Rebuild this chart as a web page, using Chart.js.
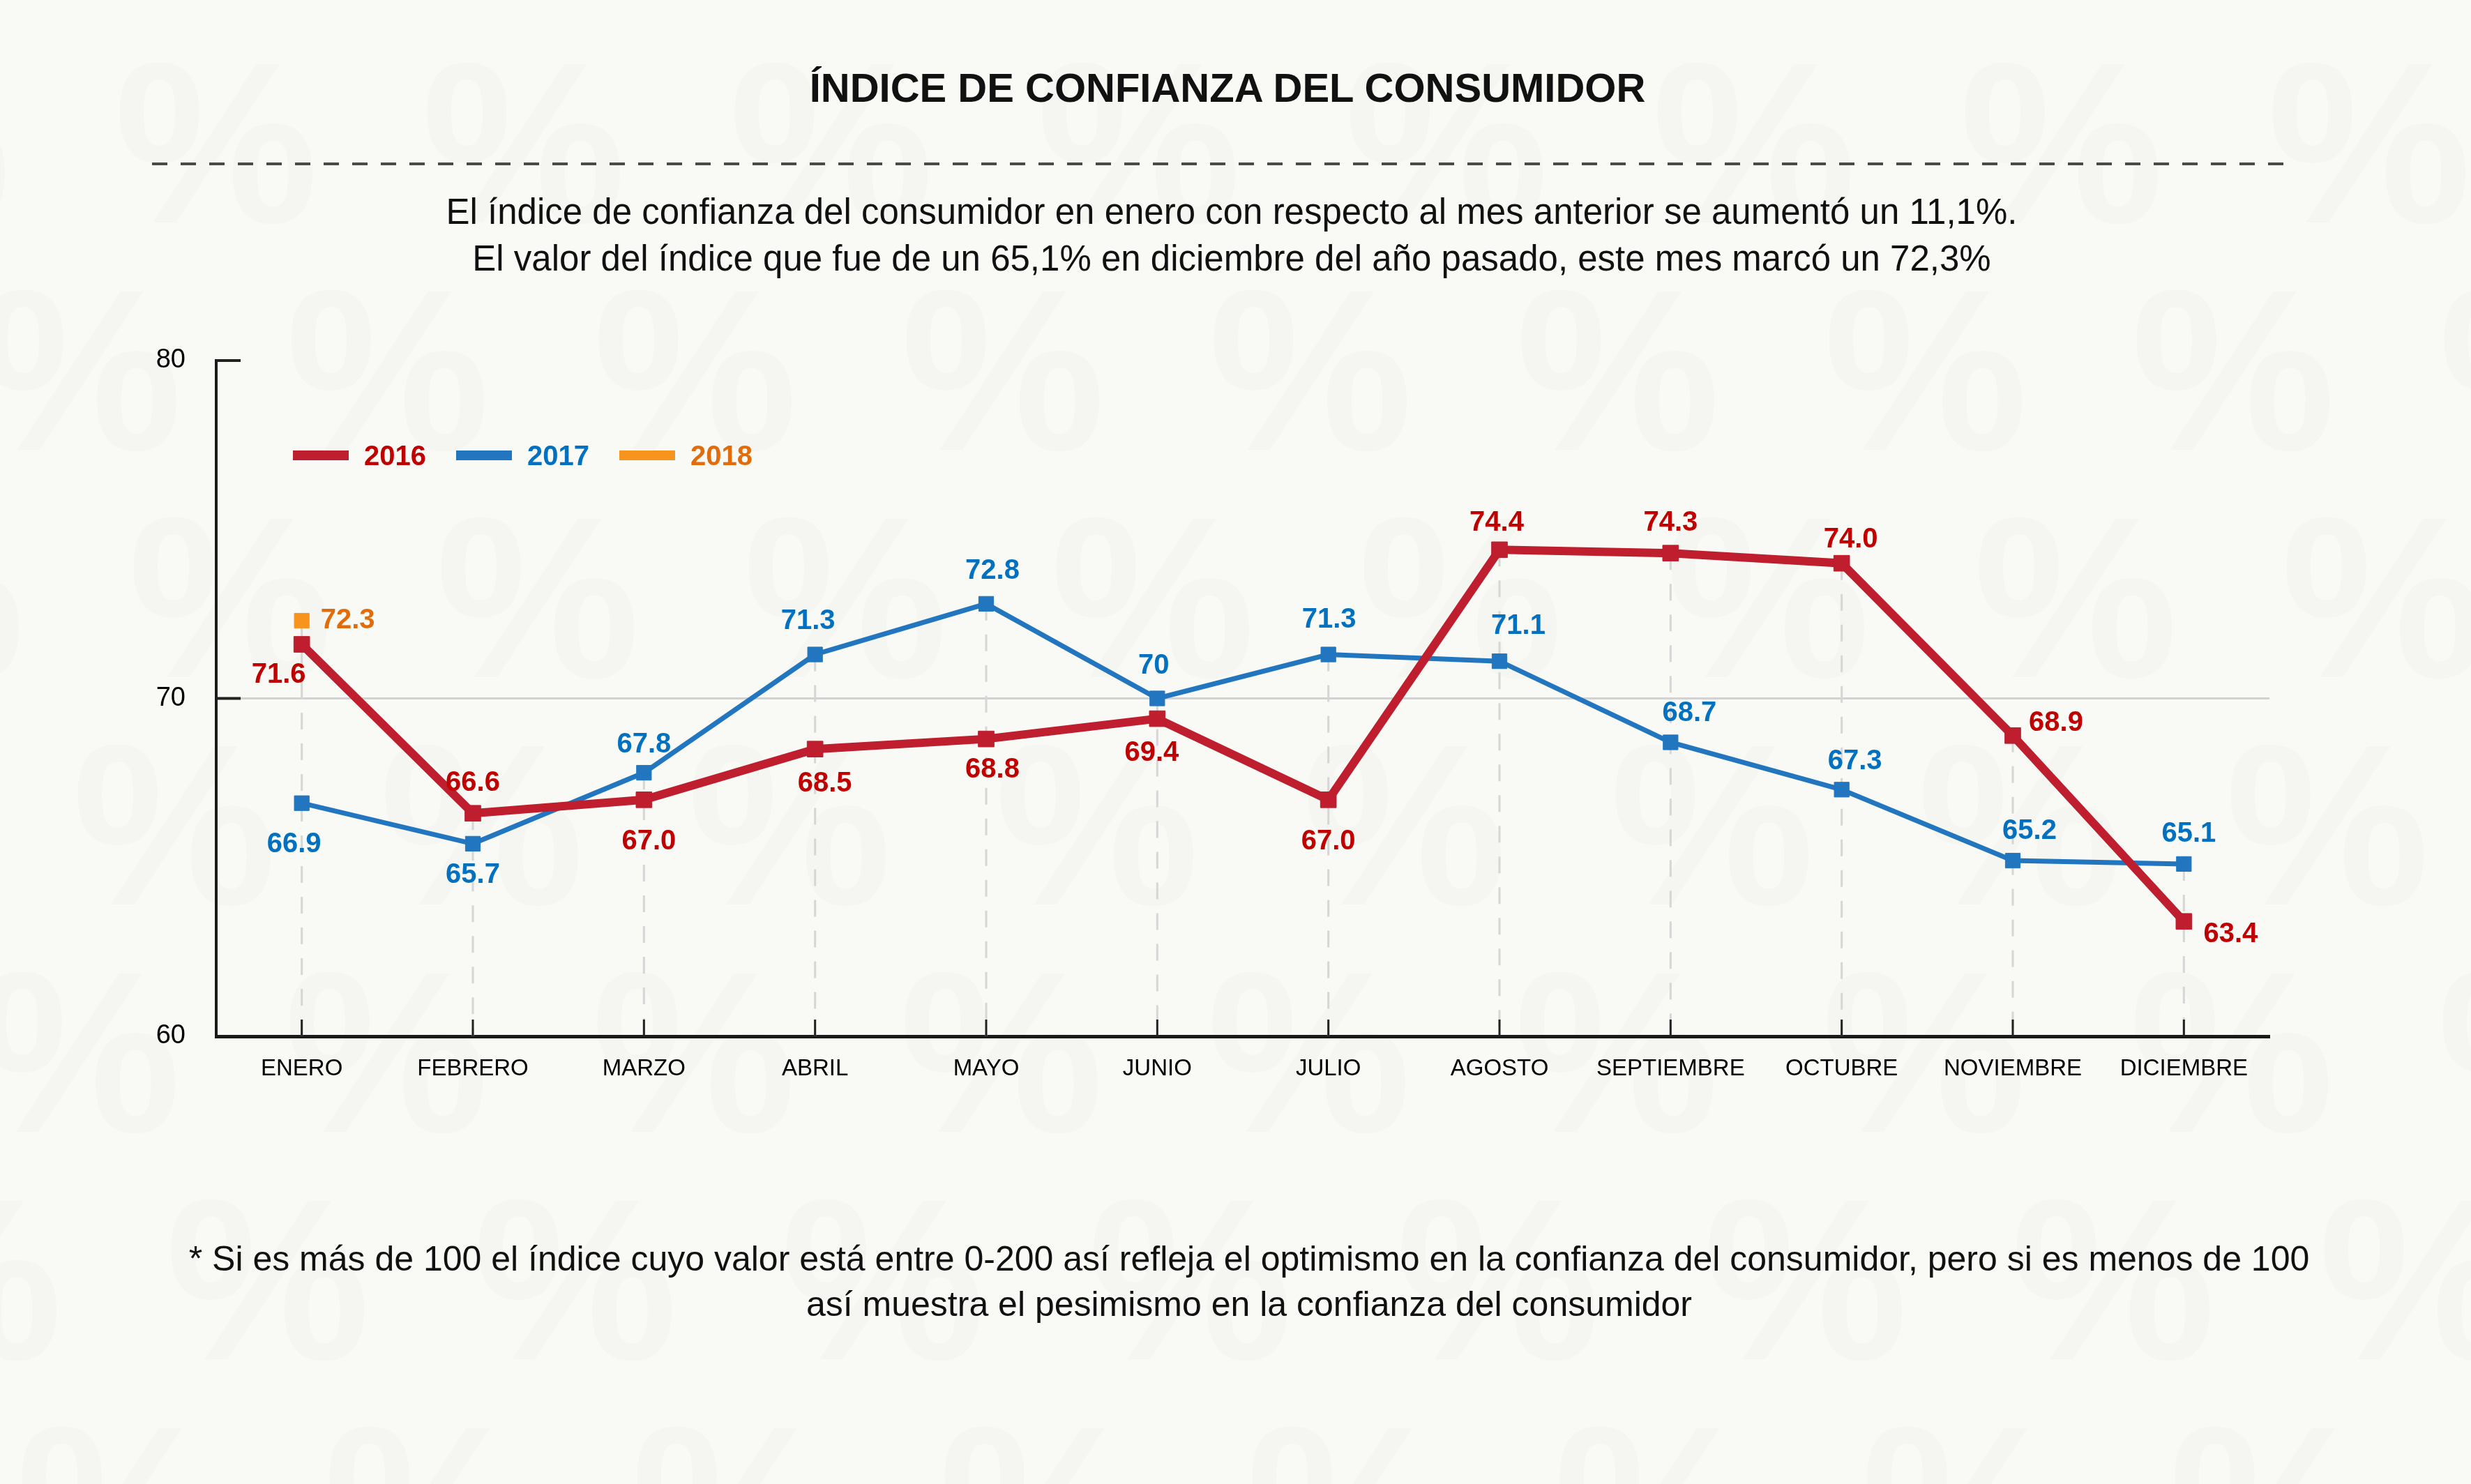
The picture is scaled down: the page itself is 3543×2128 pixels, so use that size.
<!DOCTYPE html>
<html lang="es">
<head>
<meta charset="utf-8">
<script src="https://cdn.jsdelivr.net/npm/chart.js@4.4.1/dist/chart.umd.min.js"></script>
<style>
  html, body { margin: 0; padding: 0; }
  body {
    width: 3543px; height: 2128px; position: relative; overflow: hidden;
    background: #f9f9f5; font-family: "Liberation Sans", Arial, sans-serif; color: #111;
  }
  #marks { position: absolute; left: 0; top: 0; width: 3543px; height: 2128px; }
  #marks span {
    position: absolute; font-size: 330px; font-weight: bold; line-height: 1;
    color: rgba(0, 0, 0, 0.014); transform: translate(-50%, -50%);
  }
  #chart { position: absolute; left: 0; top: 0; }
  .txt { position: absolute; text-align: center; white-space: nowrap; transform: translateX(-50%); }
  #title { left: 1760px; top: 92px; font-size: 58px; font-weight: bold; line-height: 68px; }
  #rule {
    position: absolute; left: 218px; width: 3072px; top: 233px; height: 4px;
    background: repeating-linear-gradient(90deg, #4a4a4a 0 22px, transparent 22px 41px);
  }
  #subtitle { left: 1766px; top: 270px; font-size: 51px; line-height: 67px; }
  #footer { left: 1791px; top: 1773px; font-size: 50px; line-height: 65px; }
  #legend { position: absolute; left: 420px; top: 626px; display: flex; align-items: center; height: 54px; }
  #legend .ln { width: 80px; height: 14px; margin-right: 22px; }
  #legend .lb { font-size: 40px; font-weight: bold; margin-right: 43px; }
</style>
</head>
<body>
<div id="marks"></div>
<canvas id="chart" width="3543" height="2128"></canvas>
<div id="title" class="txt">ÍNDICE DE CONFIANZA DEL CONSUMIDOR</div>
<div id="rule"></div>
<div id="subtitle" class="txt">El índice de confianza del consumidor en enero con respecto al mes anterior se aumentó un 11,1%.<br>El valor del índice que fue de un 65,1% en diciembre del año pasado, este mes marcó un 72,3%</div>
<div id="legend"></div>
<div id="footer" class="txt">* Si es más de 100 el índice cuyo valor está entre 0-200 así refleja el optimismo en la confianza del consumidor, pero si es menos de 100<br>así muestra el pesimismo en la confianza del consumidor</div>
<script>
// data
const months = ['ENERO', 'FEBRERO', 'MARZO', 'ABRIL', 'MAYO', 'JUNIO', 'JULIO',
  'AGOSTO', 'SEPTIEMBRE', 'OCTUBRE', 'NOVIEMBRE', 'DICIEMBRE'];
const seriesNames = ['2016', '2017', '2018'];
const values2016 = [71.6, 66.6, 67.0, 68.5, 68.8, 69.4, 67.0, 74.4, 74.3, 74.0, 68.9, 63.4];
const values2017 = [66.9, 65.7, 67.8, 71.3, 72.8, 70, 71.3, 71.1, 68.7, 67.3, 65.2, 65.1];
const values2018 = [72.3, null, null, null, null, null, null, null, null, null, null, null];
const yTicks = [60, 70, 80];

// styles
const lineColors = ['#be1e2d', '#2176bf', '#f7941d'];
const textColors = ['#c00000', '#0070c0', '#e36c0a'];
// where each value label sits relative to its point (px)
const labelOffsets2016 = [[-33, 44], [0, -43], [7, 60], [14, 50], [9, 44], [-8, 49],
  [0, 60], [-4, -38], [0, -43], [13, -34], [62, -18], [67, 19]];
const labelOffsets2017 = [[-11, 59], [0, 45], [0, -40], [-10, -48], [9, -47], [-5, -47],
  [1, -50], [27, -50], [27, -42], [19, -40], [24, -42], [7, -43]];
const labelOffsets2018 = [[66, 0]];

const FONT = '"Liberation Sans", Arial, sans-serif';

// faint % watermark rows (centre y, first x)
const markRows = [[205, 310], [531, 115], [857, 330], [1183, 250], [1509, 113], [1835, 384], [2161, 170]];
const marks = document.getElementById('marks');
markRows.forEach(([y, x0]) => {
  for (let x = x0 - 441; x < 3543 + 441; x += 441) {
    const s = document.createElement('span');
    s.textContent = '%';
    s.style.left = x + 'px';
    s.style.top = y + 'px';
    marks.appendChild(s);
  }
});

const CHART_LEFT = 310, CHART_RIGHT = 3254, CHART_TOP = 517, CHART_BOTTOM = 1486;
const X_AXIS_H = 100;

// dashed drop lines from the highest point of each month down to the axis
const dropLines = {
  id: 'dropLines',
  beforeDatasetsDraw(chart) {
    const { ctx, chartArea, scales } = chart;
    ctx.save();
    ctx.strokeStyle = '#d6d6d6';
    ctx.lineWidth = 3;
    ctx.setLineDash([24, 20]);
    months.forEach((m, i) => {
      let top = null;
      chart.data.datasets.forEach(ds => {
        const v = ds.data[i];
        if (v == null) return;
        if (top === null || v > top) top = v;
      });
      if (top === null) return;
      const x = scales.x.getPixelForValue(i);
      const y = scales.y.getPixelForValue(top);
      ctx.beginPath();
      ctx.moveTo(x, y);
      ctx.lineTo(x, chartArea.bottom);
      ctx.stroke();
    });
    ctx.restore();
  }
};

// short tick marks drawn inside the plot area
const innerTicks = {
  id: 'innerTicks',
  afterDraw(chart) {
    const { ctx, chartArea, scales } = chart;
    ctx.save();
    ctx.strokeStyle = '#222';
    ctx.lineWidth = 4;
    yTicks.forEach(v => {
      if (v === scales.y.min) return;
      const y = scales.y.getPixelForValue(v);
      ctx.beginPath();
      ctx.moveTo(chartArea.left, y);
      ctx.lineTo(chartArea.left + 35, y);
      ctx.stroke();
    });
    ctx.lineWidth = 3;
    months.forEach((m, i) => {
      const x = scales.x.getPixelForValue(i);
      ctx.beginPath();
      ctx.moveTo(x, chartArea.bottom);
      ctx.lineTo(x, chartArea.bottom - 24);
      ctx.stroke();
    });
    ctx.restore();
  }
};

// value labels next to the points
const valueLabels = {
  id: 'valueLabels',
  afterDatasetsDraw(chart) {
    const { ctx } = chart;
    ctx.save();
    ctx.font = 'bold 40px ' + FONT;
    ctx.textAlign = 'center';
    ctx.textBaseline = 'middle';
    chart.data.datasets.forEach((ds, di) => {
      const meta = chart.getDatasetMeta(di);
      ctx.fillStyle = ds.labelColor;
      meta.data.forEach((pt, i) => {
        const v = ds.data[i];
        if (v == null) return;
        const off = ds.labelOffsets[i] || [0, -44];
        ctx.fillText(ds.formatLabel(v), pt.x + off[0], pt.y + off[1]);
      });
    });
    ctx.restore();
  }
};

const chart = new Chart(document.getElementById('chart'), {
  type: 'line',
  data: {
    labels: months,
    datasets: [
      {
        label: seriesNames[0], data: values2016,
        borderColor: lineColors[0], backgroundColor: lineColors[0], borderWidth: 12,
        pointStyle: 'rect', pointRadius: 16, pointBorderWidth: 1,
        labelColor: textColors[0], labelOffsets: labelOffsets2016,
        formatLabel: v => v.toFixed(1)
      },
      {
        label: seriesNames[1], data: values2017,
        borderColor: lineColors[1], backgroundColor: lineColors[1], borderWidth: 7,
        pointStyle: 'rect', pointRadius: 15, pointBorderWidth: 1,
        labelColor: textColors[1], labelOffsets: labelOffsets2017,
        formatLabel: v => String(v)
      },
      {
        label: seriesNames[2], data: values2018,
        borderColor: lineColors[2], backgroundColor: lineColors[2], borderWidth: 7,
        showLine: false,
        pointStyle: 'rect', pointRadius: 15, pointBorderWidth: 1,
        labelColor: textColors[2], labelOffsets: labelOffsets2018,
        formatLabel: v => v.toFixed(1)
      }
    ]
  },
  options: {
    responsive: false,
    animation: false,
    devicePixelRatio: 1,
    layout: {
      padding: {
        left: 0, top: CHART_TOP, right: 3543 - CHART_RIGHT,
        bottom: 2128 - CHART_BOTTOM - X_AXIS_H
      }
    },
    elements: { line: { tension: 0 } },
    plugins: { legend: { display: false }, tooltip: { enabled: false } },
    scales: {
      x: {
        offset: true,
        grid: { display: false, drawTicks: false },
        border: { display: true, color: '#1a1a1a', width: 5 },
        ticks: { color: '#000', font: { family: FONT, size: 33 }, padding: 27, maxRotation: 0, autoSkip: false },
        afterFit(scale) { scale.height = X_AXIS_H; }
      },
      y: {
        min: 60, max: 80,
        afterBuildTicks(scale) { scale.ticks = yTicks.map(v => ({ value: v })); },
        grid: {
          drawTicks: false,
          color: ctx => (ctx.tick && ctx.tick.value === 70 ? '#d2d2d2' : 'rgba(0,0,0,0)'),
          lineWidth: 3
        },
        border: { display: true, color: '#1a1a1a', width: 4 },
        ticks: { color: '#000', font: { family: FONT, size: 38 }, padding: 44 },
        afterFit(scale) { scale.width = CHART_LEFT; }
      }
    }
  },
  plugins: [dropLines, innerTicks, valueLabels]
});

// legend as html, built from the datasets
const legend = document.getElementById('legend');
chart.data.datasets.forEach(ds => {
  const ln = document.createElement('div');
  ln.className = 'ln';
  ln.style.background = ds.borderColor;
  const lb = document.createElement('div');
  lb.className = 'lb';
  lb.style.color = ds.labelColor;
  lb.textContent = ds.label;
  legend.appendChild(ln);
  legend.appendChild(lb);
});
</script>
</body>
</html>
